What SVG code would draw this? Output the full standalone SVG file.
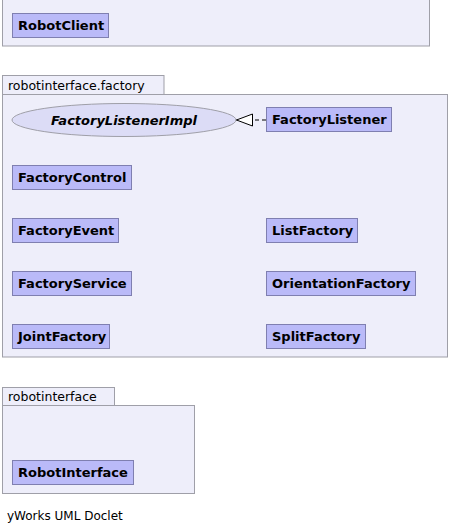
<svg xmlns="http://www.w3.org/2000/svg" width="471" height="531" viewBox="0 0 471 531">
<defs>
<style>
.pkg{fill:#eeeefa;stroke:#9f9fa8;stroke-width:1}
.cls{fill:#babaf8;stroke:#7f7fb0;stroke-width:1}
.ell{fill:#dcdcf6;stroke:#9f9fa8;stroke-width:1}
.lbl{font-family:"DejaVu Sans",sans-serif;font-size:12.5px;fill:#000}
.foot{font-family:"DejaVu Sans",sans-serif;font-size:12px;fill:#000}
.nm{font-family:"DejaVu Sans",sans-serif;font-size:13px;font-weight:bold;fill:#000}
.it{font-family:"DejaVu Sans",sans-serif;font-size:13px;font-weight:bold;font-style:italic;fill:#000;text-anchor:middle}
.edge{fill:none;stroke:#000;stroke-width:1;stroke-dasharray:4,3}
</style>
<marker id="tri" markerWidth="18" markerHeight="14" refX="17" refY="7" orient="auto" markerUnits="userSpaceOnUse">
<path d="M1,1 L17,7 L1,13 Z" fill="#fff" stroke="#000" stroke-width="1"/>
</marker>
</defs>
<rect width="471" height="531" fill="#fff"/>
<g id="pkg-top">
<rect class="pkg" x="2.5" y="-5" width="427" height="51"/>
</g>
<g id="pkg-factory">
<rect class="pkg" x="2.5" y="75.5" width="161.5" height="19"/>
<text class="lbl" x="8" y="89.5">robotinterface.factory</text>
<rect class="pkg" x="2.5" y="94.5" width="445" height="262.5"/>
</g>
<g id="pkg-robotinterface">
<rect class="pkg" x="2.5" y="387.5" width="112" height="18"/>
<text class="lbl" x="8" y="401">robotinterface</text>
<rect class="pkg" x="2.5" y="405.5" width="192" height="88"/>
</g>
<g id="RobotClient"><rect class="cls" x="12.5" y="13.5" width="96" height="24"/><text class="nm" x="18" y="30">RobotClient</text></g>
<g id="FactoryListenerImpl"><ellipse class="ell" cx="124" cy="120" rx="112" ry="16.5"/><text class="it" x="124" y="125">FactoryListenerImpl</text></g>
<g id="FactoryListener"><rect class="cls" x="266.5" y="107.5" width="125" height="24"/><text class="nm" x="272" y="124">FactoryListener</text></g>
<g id="FactoryControl"><rect class="cls" x="12.5" y="165.5" width="119" height="24"/><text class="nm" x="18" y="182">FactoryControl</text></g>
<g id="FactoryEvent"><rect class="cls" x="12.5" y="218.5" width="106" height="24"/><text class="nm" x="18" y="235">FactoryEvent</text></g>
<g id="ListFactory"><rect class="cls" x="266.5" y="218.5" width="91" height="24"/><text class="nm" x="272" y="235">ListFactory</text></g>
<g id="FactoryService"><rect class="cls" x="12.5" y="271.5" width="119" height="24"/><text class="nm" x="18" y="288">FactoryService</text></g>
<g id="OrientationFactory"><rect class="cls" x="266.5" y="271.5" width="149" height="24"/><text class="nm" x="272" y="288">OrientationFactory</text></g>
<g id="JointFactory"><rect class="cls" x="12.5" y="324.5" width="97" height="24"/><text class="nm" x="18" y="341">JointFactory</text></g>
<g id="SplitFactory"><rect class="cls" x="266.5" y="324.5" width="99" height="24"/><text class="nm" x="272" y="341">SplitFactory</text></g>
<g id="RobotInterface"><rect class="cls" x="12.5" y="460.5" width="121" height="24"/><text class="nm" x="18" y="477">RobotInterface</text></g>
<g id="connectors">
<path class="edge" d="M266,120 L236.5,120" marker-end="url(#tri)"/>
</g>
<text class="foot" x="7" y="520">yWorks UML Doclet</text>
</svg>
